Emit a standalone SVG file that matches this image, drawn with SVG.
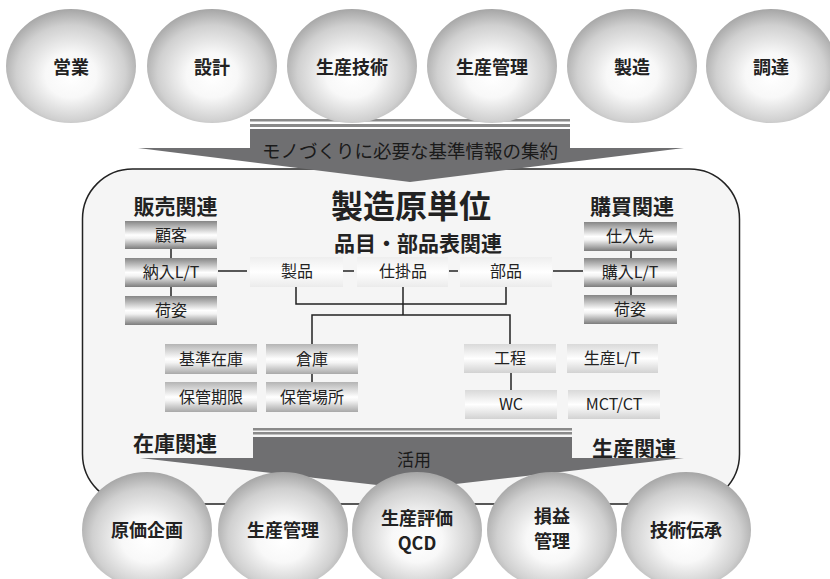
<svg xmlns="http://www.w3.org/2000/svg" width="830" height="579" viewBox="0 0 830 579">
<defs>
<radialGradient id="ball" cx="0.5" cy="0.55" r="0.56" fx="0.5" fy="0.6">
<stop offset="0" stop-color="#ffffff"/>
<stop offset="0.35" stop-color="#f8f8f8"/>
<stop offset="0.75" stop-color="#d0d0d0"/>
<stop offset="1" stop-color="#a2a2a2"/>
</radialGradient>
<linearGradient id="gDark" x1="0" y1="0" x2="0" y2="1">
<stop offset="0" stop-color="#858585"/>
<stop offset="0.5" stop-color="#ffffff"/>
<stop offset="0.62" stop-color="#f2f2f2"/>
<stop offset="1" stop-color="#7c7c7c"/>
</linearGradient>
<linearGradient id="gMid" x1="0" y1="0" x2="0" y2="1">
<stop offset="0" stop-color="#b4b4b4"/>
<stop offset="0.5" stop-color="#ffffff"/>
<stop offset="0.62" stop-color="#f4f4f4"/>
<stop offset="1" stop-color="#a8a8a8"/>
</linearGradient>
<linearGradient id="gLight" x1="0" y1="0" x2="0" y2="1">
<stop offset="0" stop-color="#d9d9d9"/>
<stop offset="0.5" stop-color="#ffffff"/>
<stop offset="1" stop-color="#d2d2d2"/>
</linearGradient>
<linearGradient id="gFaint" x1="0" y1="0" x2="0" y2="1">
<stop offset="0" stop-color="#eeeeee"/>
<stop offset="0.5" stop-color="#ffffff"/>
<stop offset="1" stop-color="#ebebeb"/>
</linearGradient>
<style>
text{font-family:"Noto Sans CJK JP","Noto Sans",sans-serif;fill:#222;text-anchor:middle}
.ball{fill:url(#ball)}
.bt{font-size:18px;font-weight:bold}
.hd{font-size:21px;font-weight:bold}
.bx{font-size:16px}
.dk{fill:url(#gDark)}
.md{fill:url(#gMid)}
.lt{fill:url(#gLight)}
.ft{fill:url(#gFaint)}
.arr{fill:#6f6f71}
.stripe{fill:#8a8a8a}
.ln{stroke:#222;stroke-width:1.5;fill:none}
</style>
</defs>
<rect width="830" height="579" fill="#ffffff"/>

<g id="frame">
<rect x="82.5" y="169" width="657" height="335" rx="50" ry="50" fill="#f5f5f5" stroke="#222" stroke-width="1.5"/>
</g>

<g id="top-arrow">
<rect class="stripe" x="250" y="119" width="320" height="2.5"/>
<rect class="stripe" x="250" y="124" width="320" height="3"/>
<path class="arr" d="M250,129 L570,129 L570,148 L684,148 L410,182 L138,148 L250,148 Z"/>
<text x="410" y="158" style="font-size:18.5px;fill:#1a1a1a">モノづくりに必要な基準情報の集約</text>
</g>

<g id="top-circles">
<g id="c-eigyo"><ellipse class="ball" cx="71" cy="66" rx="65" ry="57"/><text class="bt" x="71" y="74">営業</text></g>
<g id="c-sekkei"><ellipse class="ball" cx="212" cy="66" rx="65" ry="57"/><text class="bt" x="212" y="74">設計</text></g>
<g id="c-seisangijutsu"><ellipse class="ball" cx="352" cy="66" rx="65" ry="57"/><text class="bt" x="352" y="74">生産技術</text></g>
<g id="c-seisankanri"><ellipse class="ball" cx="492" cy="66" rx="65" ry="57"/><text class="bt" x="492" y="74">生産管理</text></g>
<g id="c-seizo"><ellipse class="ball" cx="632" cy="66" rx="65" ry="57"/><text class="bt" x="632" y="74">製造</text></g>
<g id="c-chotatsu"><ellipse class="ball" cx="771" cy="66" rx="65" ry="57"/><text class="bt" x="771" y="74">調達</text></g>
</g>

<g id="titles">
<text x="411" y="218" style="font-size:32px;font-weight:bold">製造原単位</text>
<text class="hd" x="418" y="251">品目・部品表関連</text>
<text class="hd" x="175.5" y="214">販売関連</text>
<text class="hd" x="632" y="214">購買関連</text>
<text class="hd" x="175" y="451">在庫関連</text>
<text class="hd" x="634" y="456">生産関連</text>
</g>

<g id="connectors">
<line class="ln" x1="171" y1="249" x2="171" y2="258"/>
<line class="ln" x1="171" y1="287" x2="171" y2="296"/>
<line class="ln" x1="631" y1="250" x2="631" y2="258"/>
<line class="ln" x1="631" y1="287" x2="631" y2="296"/>
<line class="ln" x1="218" y1="271" x2="247" y2="271"/>
<line class="ln" x1="343" y1="271" x2="354" y2="271"/>
<line class="ln" x1="449" y1="271" x2="458" y2="271"/>
<line class="ln" x1="553" y1="271" x2="583" y2="271"/>
<polyline class="ln" points="296,287 296,304 506,304 506,287"/>
<line class="ln" x1="403" y1="287" x2="403" y2="315"/>
<polyline class="ln" points="312,344 312,315 510,315 510,344"/>
<line class="ln" x1="312" y1="374" x2="312" y2="382"/>
<line class="ln" x1="511" y1="373" x2="511" y2="390"/>
</g>

<g id="n-kokyaku"><rect class="dk" x="125" y="221" width="92" height="28"/><text class="bx" x="171" y="241">顧客</text></g>
<g id="n-nonyu"><rect class="dk" x="125" y="258" width="92" height="29"/><text class="bx" x="171" y="278">納入L/T</text></g>
<g id="n-nisugata-l"><rect class="dk" x="125" y="296" width="92" height="29"/><text class="bx" x="171" y="316">荷姿</text></g>

<g id="n-shiiresaki"><rect class="dk" x="584" y="222" width="93" height="29"/><text class="bx" x="630" y="242">仕入先</text></g>
<g id="n-konyu"><rect class="dk" x="584" y="258" width="93" height="29"/><text class="bx" x="630" y="278">購入L/T</text></g>
<g id="n-nisugata-r"><rect class="dk" x="584" y="295" width="93" height="29"/><text class="bx" x="630" y="315">荷姿</text></g>

<g id="n-seihin"><rect class="ft" x="250" y="257" width="93" height="30"/><text class="bx" x="297" y="277">製品</text></g>
<g id="n-shikakehin"><rect class="ft" x="357" y="257" width="91" height="30"/><text class="bx" x="403" y="277">仕掛品</text></g>
<g id="n-buhin"><rect class="ft" x="460" y="257" width="92" height="30"/><text class="bx" x="506" y="277">部品</text></g>

<g id="n-kijunzaiko"><rect class="md" x="165" y="344" width="92" height="30"/><text class="bx" x="211" y="365">基準在庫</text></g>
<g id="n-soko"><rect class="md" x="266" y="344" width="92" height="30"/><text class="bx" x="312" y="365">倉庫</text></g>
<g id="n-hokankigen"><rect class="md" x="165" y="382" width="92" height="30"/><text class="bx" x="211" y="403">保管期限</text></g>
<g id="n-hokanbasho"><rect class="md" x="266" y="382" width="92" height="30"/><text class="bx" x="312" y="403">保管場所</text></g>

<g id="n-kotei"><rect class="lt" x="464" y="344" width="92" height="29"/><text class="bx" x="510" y="364">工程</text></g>
<g id="n-seisanlt"><rect class="lt" x="567" y="344" width="91" height="29"/><text class="bx" x="612" y="364">生産L/T</text></g>
<g id="n-wc"><rect class="lt" x="465" y="390" width="92" height="29"/><text class="bx" x="511" y="410">WC</text></g>
<g id="n-mct"><rect class="lt" x="568" y="390" width="92" height="29"/><text class="bx" x="614" y="410">MCT/CT</text></g>

<g id="bottom-arrow">
<rect class="stripe" x="253" y="428" width="319" height="2.5"/>
<rect class="stripe" x="253" y="432" width="319" height="2.5"/>
<path class="arr" d="M253,437 L572,437 L572,458 L684,458 L412,489 L140,458 L253,458 Z"/>
<text x="414" y="466" style="font-size:17px;fill:#1a1a1a">活用</text>
</g>

<g id="bottom-circles">
<g id="c-genkakikaku"><ellipse class="ball" cx="147" cy="530" rx="65" ry="58"/><text class="bt" x="147" y="537">原価企画</text></g>
<g id="c-seisankanri2"><ellipse class="ball" cx="283" cy="530" rx="65" ry="58"/><text class="bt" x="283" y="537">生産管理</text></g>
<g id="c-seisanhyoka"><ellipse class="ball" cx="417" cy="530" rx="65" ry="58"/><text class="bt" x="417" y="525">生産評価</text><text class="bt" x="417" y="550">QCD</text></g>
<g id="c-soneki"><ellipse class="ball" cx="552" cy="530" rx="65" ry="58"/><text class="bt" x="552" y="523">損益</text><text class="bt" x="552" y="548">管理</text></g>
<g id="c-gijutsudensho"><ellipse class="ball" cx="686" cy="530" rx="65" ry="58"/><text class="bt" x="686" y="537">技術伝承</text></g>
</g>
</svg>
